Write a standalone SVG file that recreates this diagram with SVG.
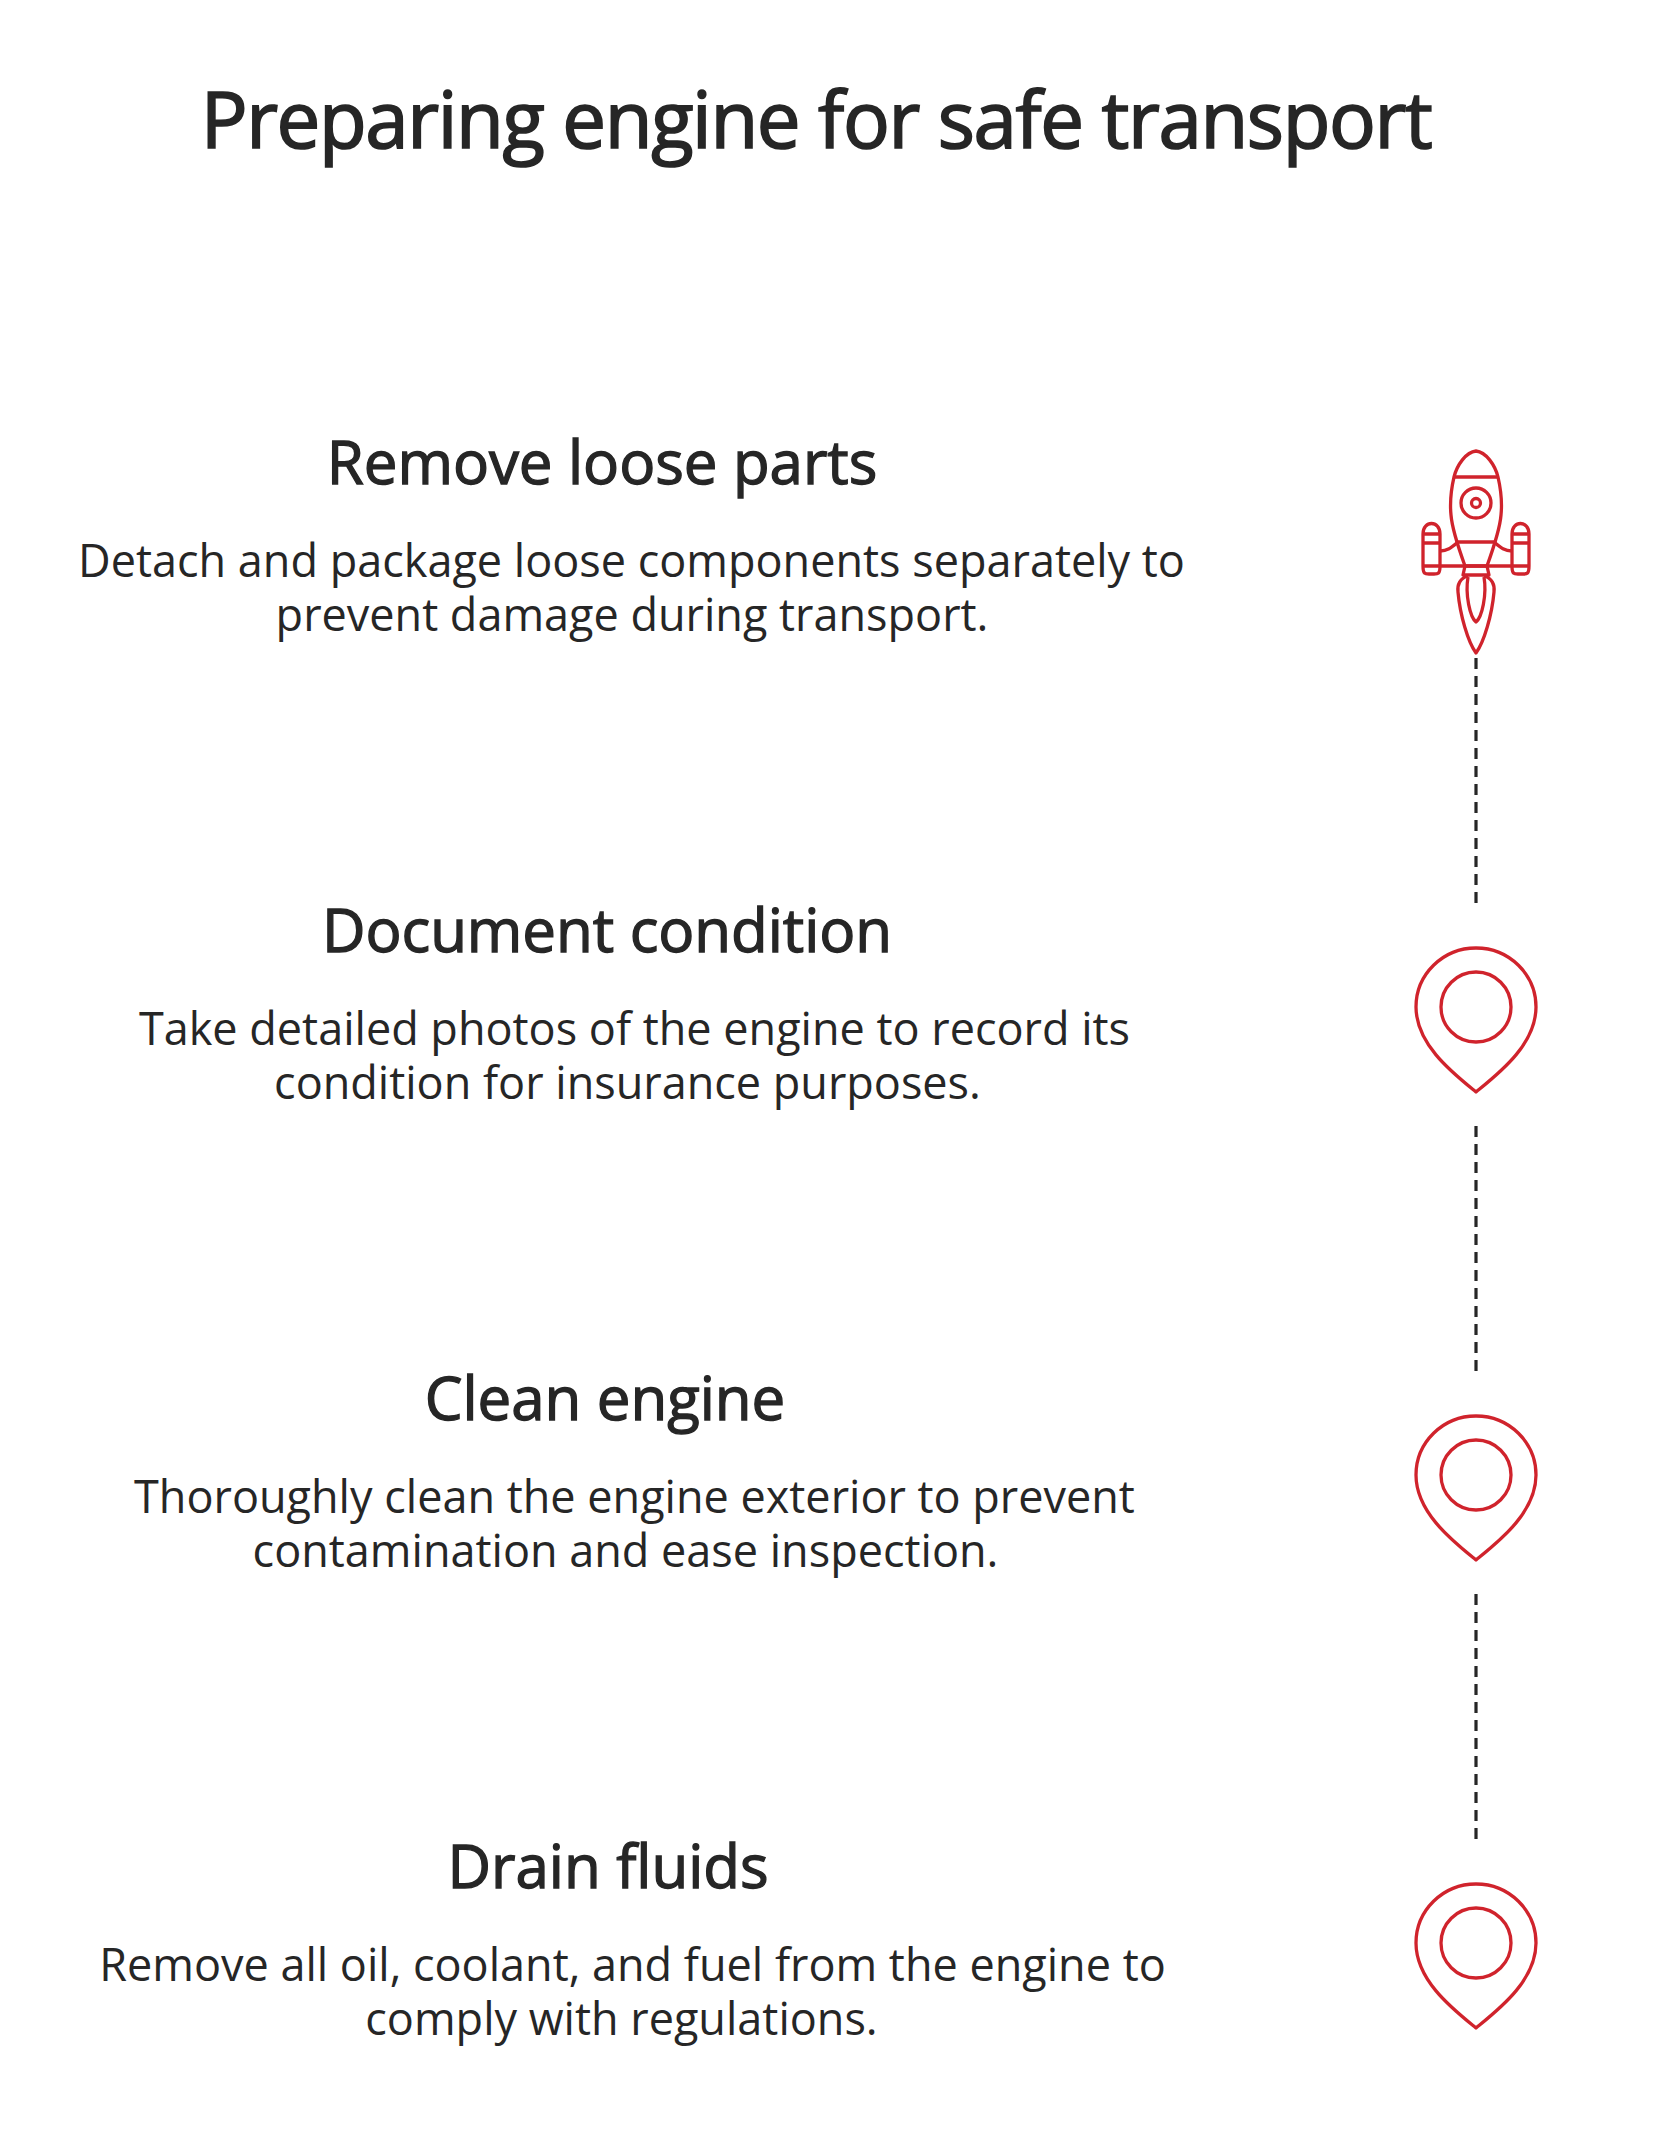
<svg xmlns="http://www.w3.org/2000/svg" width="1656" height="2147" viewBox="0 0 1656 2147">
<style>
text{font-family:"Open Sans","Noto Sans",sans-serif;fill:#262626;text-anchor:middle}
.t{font-size:78px;font-weight:400;letter-spacing:-1.4px;stroke:#262626;stroke-width:1.7px}
.h{font-size:60px;font-weight:400;letter-spacing:-0.05px;stroke:#262626;stroke-width:1.3px}
.b{font-size:45px;font-weight:400}
.i{fill:none;stroke:#d0232c;stroke-width:3.3;stroke-linejoin:round}
.c{stroke:#262626;stroke-width:3.2;stroke-dasharray:11 7;fill:none}
</style>
<defs>
<g id="pin"><path class="i" d="M0 144C-22 126-60 97-60 59A60 59 0 0 1 60 59C60 97 22 126 0 144Z"/><circle class="i" cx="0" cy="59" r="35"/></g>
</defs>
<rect width="1656" height="2147" fill="#fff"/>
<text class="t" x="816" y="148">Preparing engine for safe transport</text>
<g id="connectors">
<path class="c" d="M1476 658V903"/><path class="c" d="M1476 1126V1371"/><path class="c" d="M1476 1594V1839"/>
</g>
<g id="node1">
<text class="h" x="602" y="484">Remove loose parts</text>
<text class="b" x="631.5" y="577">Detach and package loose components separately to</text>
<text class="b" x="632" y="631">prevent damage during transport.</text>
<g class="rocket">
<path class="i" d="M1476 451C1466 452 1457 465 1454 477C1451 490 1450 505 1451 515C1452 528 1456 541 1465 566H1487C1496 541 1500 528 1501 515C1502 505 1501 490 1498 477C1495 465 1486 452 1476 451Z"/>
<path class="i" d="M1454 477H1498M1458 542H1494"/>
<circle class="i" cx="1476" cy="503" r="15"/><circle class="i" cx="1476" cy="503" r="4.5"/>
<path class="i" d="M1423 534C1423 520 1440 520 1440 534V566C1440 574 1438 574 1434 574H1429C1425 574 1423 574 1423 566ZM1512 534C1512 520 1529 520 1529 534V566C1529 574 1527 574 1523 574H1518C1514 574 1512 574 1512 566Z"/>
<path class="i" d="M1423 534H1440M1423 543H1440M1512 534H1529M1512 543H1529M1423 566H1529M1440 551C1448 551 1452 547 1458 542M1512 551C1504 551 1500 547 1494 542"/>
<path class="i" d="M1465 566L1463 575H1489L1487 566M1468 576C1460 578 1457 585 1458 592C1460 615 1468 642 1476 653C1484 642 1492 615 1494 592C1495 585 1492 578 1484 576"/>
<path class="i" d="M1468 577C1465 595 1470 617 1476 622C1482 617 1487 595 1484 577"/>
</g>
</g>
<g id="node2">
<text class="h" x="607" y="952">Document condition</text>
<text class="b" x="634.5" y="1045">Take detailed photos of the engine to record its</text>
<text class="b" x="627.5" y="1099">condition for insurance purposes.</text>
<use href="#pin" x="1476" y="948"/>
</g>
<g id="node3">
<text class="h" x="605" y="1420">Clean engine</text>
<text class="b" x="634.5" y="1513">Thoroughly clean the engine exterior to prevent</text>
<text class="b" x="625.5" y="1567">contamination and ease inspection.</text>
<use href="#pin" x="1476" y="1416"/>
</g>
<g id="node4">
<text class="h" x="608" y="1888">Drain fluids</text>
<text class="b" x="632.5" y="1981">Remove all oil, coolant, and fuel from the engine to</text>
<text class="b" x="621.5" y="2035">comply with regulations.</text>
<use href="#pin" x="1476" y="1884"/>
</g>
</svg>
